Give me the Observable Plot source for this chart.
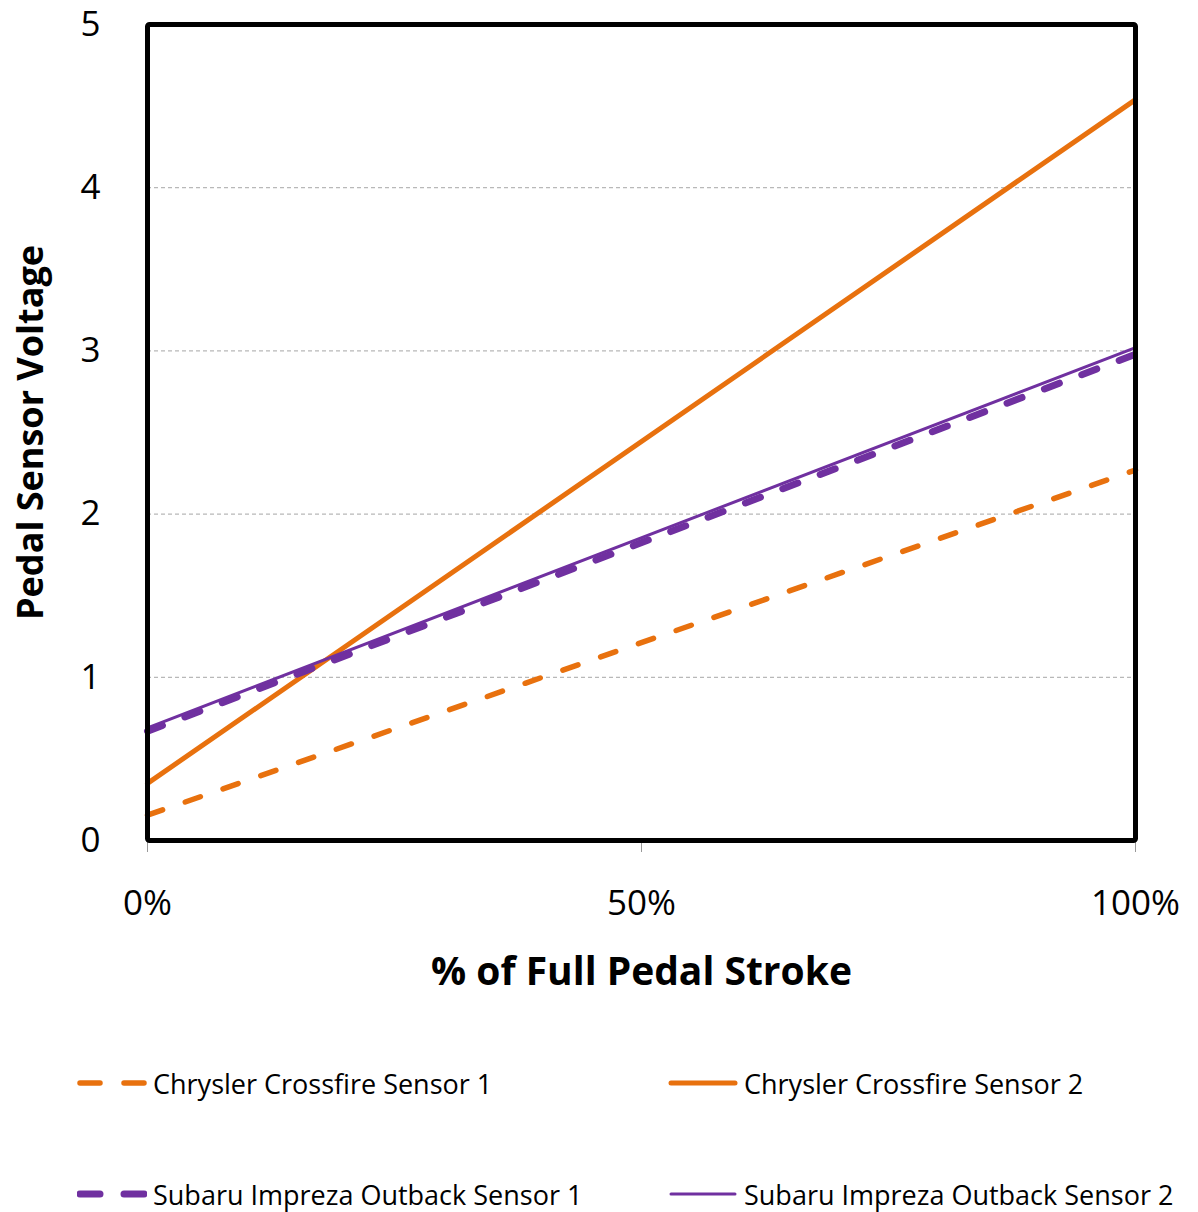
<!DOCTYPE html>
<html><head><meta charset="utf-8">
<script src="https://cdn.jsdelivr.net/npm/d3@7"></script>
<script src="https://cdn.jsdelivr.net/npm/@observablehq/plot@0.6"></script>
<style>
body{margin:0;background:#fff;font-family:"Open Sans",sans-serif;}
#legend{position:relative;width:1198px;height:202px;}
.item{position:absolute;display:flex;align-items:center;font-size:27px;color:#000;white-space:pre;}
.item svg{margin-right:6px;}
</style></head>
<body>
<div id="chart"></div>
<div id="legend"></div>
<script>
const stroke = [0, 1];
const crossfire1 = [0.155, 2.27];
const crossfire2 = [0.35, 4.54];
const subaru1 = [0.67, 2.98];
const subaru2 = [0.69, 3.02];
const yTicks = [0, 1, 2, 3, 4, 5];
const xTicks = [0, 0.5, 1];
const seriesNames = ["Chrysler Crossfire Sensor 1", "Chrysler Crossfire Sensor 2", "Subaru Impreza Outback Sensor 1", "Subaru Impreza Outback Sensor 2"];

const orange = "#E8710E", purple = "#7030A0";
const styles = [
  {stroke: orange, strokeWidth: 5.5, strokeDasharray: "16,24", strokeLinecap: "round"},
  {stroke: orange, strokeWidth: 5, strokeLinecap: "round"},
  {stroke: purple, strokeWidth: 7, strokeDasharray: "16,24", strokeLinecap: "round"},
  {stroke: purple, strokeWidth: 3, strokeLinecap: "round"}
];
const seriesVals = [crossfire1, crossfire2, subaru1, subaru2];
const rows = seriesVals.map(v => stroke.map((x, i) => ({x, y: v[i]})));

const chart = Plot.plot({
  width: 1198, height: 1012,
  marginLeft: 147, marginRight: 63, marginTop: 24, marginBottom: 172,
  x: {domain: [0, 1]},
  y: {domain: [0, 5]},
  style: {fontFamily: "Open Sans, sans-serif", color: "#000"},
  marks: [
    Plot.gridY(yTicks.filter(d => d > 0 && d < 5), {stroke: "#b8b8b8", strokeOpacity: 1, strokeWidth: 1.2, strokeDasharray: "4,3"}),
    Plot.axisY(yTicks, {tickSize: 0, tickPadding: 47, fontSize: 35, tickFormat: d => String(d), label: null}),
    Plot.axisX(xTicks, {tickSize: 12, tickPadding: 38, fontSize: 35, tickFormat: d => Math.round(d * 100) + "%", stroke: "#999", label: null}),
    ...rows.map((r, i) => Plot.line(r, {x: "x", y: "y", ...styles[i]})),
    Plot.frame({stroke: "#000", strokeWidth: 5, rx: 2}),
    Plot.text(["% of Full Pedal Stroke"], {frameAnchor: "bottom", dy: 144, fontSize: 39, fontWeight: "bold"}),
    Plot.text(["Pedal Sensor Voltage"], {frameAnchor: "left", textAnchor: "middle", dx: -116, rotate: -90, fontSize: 36, fontWeight: "bold"})
  ]
});
document.getElementById("chart").appendChild(chart);

const legend = document.getElementById("legend");
const pos = [[77, 1083], [668, 1083], [77, 1194], [668, 1194]];
const top0 = 1012;
seriesNames.forEach((name, i) => {
  const s = styles[i];
  const div = document.createElement("div");
  div.className = "item";
  div.style.left = pos[i][0] + "px";
  div.style.top = (pos[i][1] - top0 - 20) + "px";
  div.style.height = "40px";
  div.innerHTML = `<svg width="70" height="20"><line x1="3" x2="67" y1="10" y2="10" stroke="${s.stroke}" stroke-width="${s.strokeWidth}" stroke-linecap="round" ${s.strokeDasharray ? 'stroke-dasharray="20,24"' : ''}/></svg><span>${name}</span>`;
  legend.appendChild(div);
});
</script>
</body></html>
